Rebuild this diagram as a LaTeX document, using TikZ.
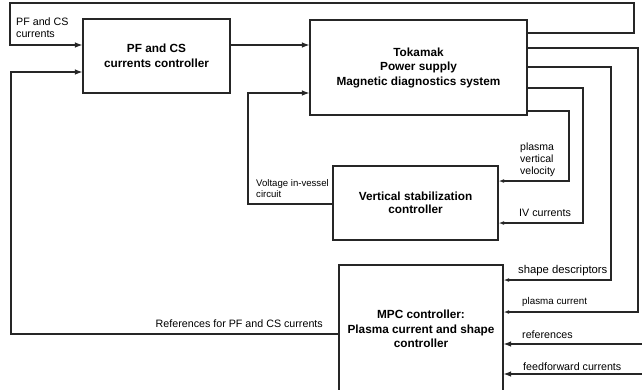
\documentclass[tikz,border=0pt]{standalone}
\usepackage{fontspec}
\setmainfont{Liberation Sans}
\usetikzlibrary{arrows.meta}
\begin{document}
\begin{tikzpicture}[x=1pt,y=-1pt,
  box/.style={draw=black!85, line width=1.1pt, align=center, inner sep=0pt,
    font=\bfseries\fontsize{11.8}{14.5}\selectfont},
  wire/.style={draw=black!85, line width=1.1pt},
  arr/.style={wire, -{Latex[length=7.5pt,width=5.5pt]}},
  arrsmall/.style={wire, -{Latex[length=5.5pt,width=3.8pt]}},
  lbl/.style={inner sep=0pt, anchor=west, align=left,
    font=\fontsize{10.7}{12}\selectfont}]
\useasboundingbox (0,0) rectangle (642,389);
\clip (0,0) rectangle (642,389);

% blocks
\node[box, minimum width=147pt, minimum height=74pt] (pf) at (156.5,56)
  {PF and CS\\currents controller};
\node[box, minimum width=217pt, minimum height=95pt] (tok) at (418.5,67.5)
  {Tokamak\\Power supply\\Magnetic diagnostics system};
\node[box, minimum width=165pt, minimum height=74pt,
  font=\bfseries\fontsize{11.8}{12.5}\selectfont] (vs) at (415.5,203)
  {Vertical stabilization\\controller};
\node[box, minimum width=164pt, minimum height=128pt] (mpc) at (421,329)
  {MPC controller:\\Plasma current and shape\\controller};

% corner points of the wiring
\coordinate (ta) at (634,33);  \coordinate (tb) at (634,3);
\coordinate (tc) at (10,3);    \coordinate (td) at (10,45);
\coordinate (ra) at (638,48);  \coordinate (rb) at (638,312);
\coordinate (sa) at (611,67);  \coordinate (sb) at (611,280);
\coordinate (ia) at (583,88);  \coordinate (ib) at (583,223);
\coordinate (va) at (569,111); \coordinate (vb) at (569,181);
\coordinate (ref) at (642,344); \coordinate (ff) at (642,374);
\coordinate (wa) at (248,204); \coordinate (wb) at (248,93);
\coordinate (ma) at (11,334);  \coordinate (mb) at (11,72);

% connectors
\draw[arr] (tok.east |- ta) -- (ta) -- (tb) -- (tc) -- (td) -- (pf.west |- td);
\draw[arr] (pf.east |- td) -- (tok.west |- td);
\draw[arrsmall] (tok.east |- ra) -- (ra) -- (rb) -- (mpc.east |- rb);
\draw[arrsmall] (tok.east |- sa) -- (sa) -- (sb) -- (mpc.east |- sb);
\draw[arrsmall] (tok.east |- ia) -- (ia) -- (ib) -- (vs.east |- ib);
\draw[arrsmall] (tok.east |- va) -- (va) -- (vb) -- (vs.east |- vb);
\draw[arr] (ref) -- (mpc.east |- ref);
\draw[arr] (ff) -- (mpc.east |- ff);
\draw[arr] (vs.west |- wa) -- (wa) -- (wb) -- (tok.west |- wb);
\draw[arr] (mpc.west |- ma) -- (ma) -- (mb) -- (pf.west |- mb);

% signal labels
\node[lbl] (lpf) at (16,27.5) {PF and CS\\currents};
\node[lbl, font=\fontsize{10.5}{12}\selectfont] (lvel) at (520,160) {plasma\\vertical\\velocity};
\node[lbl] (liv) at (519,213) {IV currents};
\node[lbl, font=\fontsize{11.3}{12}\selectfont] (lsh) at (518,271) {shape descriptors};
\node[lbl, font=\fontsize{9.8}{12}\selectfont] (lip) at (522,302) {plasma current};
\node[lbl] (lref) at (522,335) {references};
\node[lbl] (lff) at (523,367) {feedforward currents};
\node[lbl, anchor=east] (lrefs) at (323,324) {References for PF and CS currents};
\node[lbl, font=\fontsize{9.6}{11}\selectfont] (lvolt) at (256,188.5) {Voltage in-vessel\\circuit};
\end{tikzpicture}
\end{document}
